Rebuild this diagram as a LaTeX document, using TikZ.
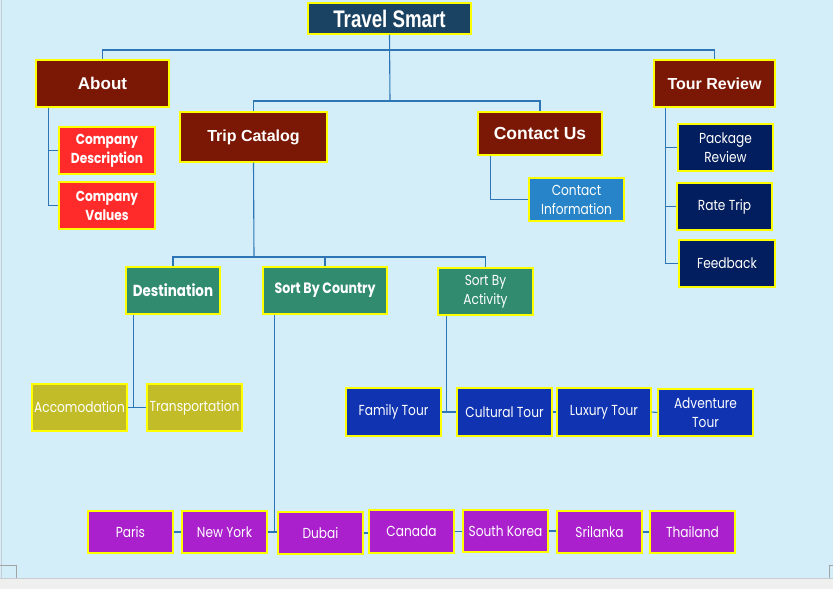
\documentclass[tikz,border=0pt]{standalone}
\usepackage{fontspec}
\setmainfont{Liberation Sans}
\newfontfamily\titlefont[FakeStretch=0.78]{Liberation Sans}
\newfontfamily\gothic[FakeStretch=0.84]{Poppins}
\definecolor{canvas}{HTML}{D4EEF9}
\definecolor{strip}{HTML}{EFEFEF}
\definecolor{edge}{HTML}{C9CDD0}
\definecolor{wire}{HTML}{2E75B6}
\definecolor{frame}{HTML}{FFFF00}
\definecolor{titleblue}{HTML}{1A4262}
\definecolor{maroon}{HTML}{7B1805}
\definecolor{brightred}{HTML}{FF2B2B}
\definecolor{skyblue}{HTML}{2784C9}
\definecolor{navy}{HTML}{031E5E}
\definecolor{teal}{HTML}{318B6F}
\definecolor{olive}{HTML}{C2BC28}
\definecolor{royal}{HTML}{0F33B1}
\definecolor{violet}{HTML}{AA20CC}
\tikzset{
  box/.style={draw=frame, line width=1.2pt, inner sep=0pt, text=white, align=center},
  mainbox/.style={box, fill=maroon, minimum width=#1, font=\bfseries},
  subred/.style={box, fill=brightred, minimum width=96, minimum height=47, font=\gothic\bfseries\fontsize{14.5}{19}\selectfont},
  subnavy/.style={box, fill=navy, minimum width=95, minimum height=47, font=\gothic\fontsize{14.5}{19}\selectfont},
  catbox/.style={box, fill=teal, minimum height=47, font=\gothic\fontsize{14.5}{19}\selectfont},
  oldbox/.style={box, fill=olive, minimum width=95, minimum height=47, font=\gothic\fontsize{14.5}{19}\selectfont},
  tourbox/.style={box, fill=royal, minimum width=95, minimum height=48, font=\gothic\fontsize{14.5}{19}\selectfont},
  citybox/.style={box, fill=violet, minimum width=85, minimum height=42, font=\gothic\fontsize{14.5}{19}\selectfont},
  link/.style={draw=wire, line width=1.1pt},
  frameline/.style={draw=edge, line width=0.8pt}
}
\begin{document}
\begin{tikzpicture}[x=1pt, y=-1pt]
\useasboundingbox (0,0) rectangle (833,589);
% canvas and window frame
\fill[canvas] (0,0) rectangle (833,578);
\fill[strip] (0,578) rectangle (833,589);
\draw[frameline] (0,578) -- (833,578);
\draw[frameline] (1,0) -- (1,578);
\draw[draw=edge!80!black, line width=0.6pt] (0,565) -- (16,565) -- (16,578);
\draw[draw=edge!80!black, line width=0.6pt] (833,565) -- (829,565) -- (829,578);

% top level
\node[box, fill=titleblue, minimum width=163, minimum height=31,
      font=\titlefont\bfseries\fontsize{24}{24}\selectfont] (title) at (389.5,18.5) {Travel Smart};

\node[mainbox=133, minimum height=47, font=\bfseries\fontsize{17}{20}\selectfont] (about) at (102.5,83.5) {About};
\node[mainbox=147, minimum height=50, font=\bfseries\fontsize{16}{20}\selectfont] (trip) at (253.5,137) {Trip Catalog};
\node[mainbox=124, minimum height=43, font=\bfseries\fontsize{17.5}{20}\selectfont] (contact) at (540,133.5) {Contact Us};
\node[mainbox=121, minimum height=47, font=\bfseries\fontsize{16}{20}\selectfont] (tour) at (714.5,83.5) {Tour Review};

% about
\node[subred] (cdesc) at (107,150.5) {Company\\Description};
\node[subred] (cval) at (107,205.5) {Company\\Values};

% contact
\node[box, fill=skyblue, minimum width=95, minimum height=43, font=\gothic\fontsize{14.5}{19}\selectfont] (cinfo) at (576.5,199.5) {Contact\\Information};

% tour review
\node[subnavy] (pkg) at (725.5,147.5) {Package\\Review};
\node[subnavy] (rate) at (724.5,206.5) {Rate Trip};
\node[subnavy, minimum width=96] (feed) at (727,263.5) {Feedback};

% trip catalog
\node[catbox, minimum width=94, font=\gothic\bfseries\fontsize{16}{19}\selectfont] (dest) at (173,290.5) {Destination};
\node[catbox, minimum width=124, font=\gothic\bfseries\fontsize{15}{19}\selectfont] (country) at (325,290.5) {Sort By Country};
\node[catbox, minimum width=95] (activity) at (485.5,291.5) {Sort By\\Activity};

% destination
\node[oldbox] (accom) at (79.5,407.5) {Accomodation};
\node[oldbox] (transp) at (194.5,407.5) {Transportation};

% activities
\node[tourbox] (family) at (393.5,412) {Family Tour};
\node[tourbox] (cultural) at (504.5,412) {Cultural Tour};
\node[tourbox, minimum width=94] (luxury) at (604,412) {Luxury Tour};
\node[tourbox, minimum height=47] (adventure) at (705.5,412.5) {Adventure\\Tour};

% countries
\node[citybox] (paris) at (130.5,532) {Paris};
\node[citybox] (newyork) at (224.5,532) {New York};
\node[citybox] (dubai) at (320.5,533) {Dubai};
\node[citybox, minimum height=43] (canada) at (411.5,531.5) {Canada};
\node[citybox] (skorea) at (505.5,531) {South Korea};
\node[citybox] (srilanka) at (599.5,532) {Srilanka};
\node[citybox] (thailand) at (692.5,532) {Thailand};

% connectors
\coordinate (j1) at (390,50);
\coordinate (j2) at (390,101);
\coordinate (j3) at (254,257);
\path[link] (title.south) -- (j2);
\path[link] (about.north) |- (j1) -| (tour.north);
\path[link] (trip.north) |- (j2) -| (contact.north);
\path[link] (about.south west) ++(13,0) |- (cdesc.west);
\path[link] (about.south west) ++(13,0) |- (cval.west);
\path[link] (contact.south west) ++(13,0) |- (cinfo.west);
\path[link] (tour.south west) ++(12,0) |- (pkg.west);
\path[link] (tour.south west) ++(12,0) |- (rate.west);
\path[link] (tour.south west) ++(12,0) |- (feed.west);
\path[link] (trip.south) -- (j3);
\path[link] (dest.north) |- (j3) -| (activity.north);
\path[link] (j3) -| (country.north);
\path[link] (dest.south west) ++(8,0) |- (accom.east);
\path[link] (accom.east) -- (transp.west);
\path[link] (activity.south west) ++(9,0) |- (family.east);
\path[link] (family.east) -- (cultural.west);
\path[link] (cultural.east) -- (luxury.west);
\path[link] (luxury.east) -- (adventure.west);
\path[link] (country.south west) ++(12,0) |- (newyork.east);
\path[link] (newyork.east) -- (newyork.east -| dubai.west);
\path[link] (paris.east) -- (newyork.west);
\path[link] (dubai.east) -- (dubai.east -| canada.west);
\path[link] (canada.east) -- (canada.east -| skorea.west);
\path[link] (skorea.east) -- (skorea.east -| srilanka.west);
\path[link] (srilanka.east) -- (thailand.west);
\end{tikzpicture}
\end{document}
